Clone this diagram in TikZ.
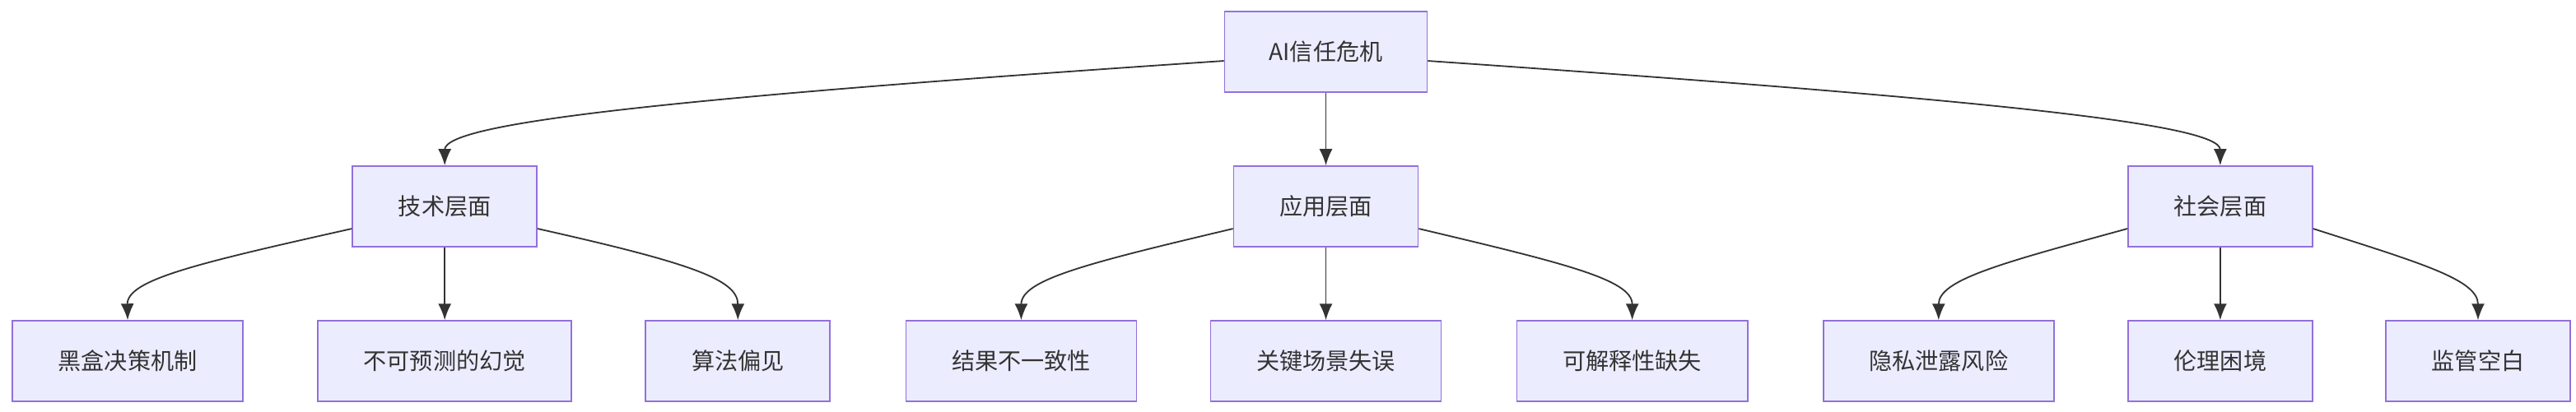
\documentclass[tikz,border=0pt]{standalone}
\usepackage{fontspec}
\setmainfont{Noto Sans CJK SC}
\usetikzlibrary{arrows.meta}
\definecolor{boxfill}{HTML}{ECECFF}
\definecolor{boxline}{HTML}{9370DB}
\definecolor{edgeline}{HTML}{333333}
\tikzset{box/.style={rectangle,draw=boxline,fill=boxfill,line width=1.2pt,minimum height=2.45cm,text centered,font=\fontsize{20}{24}\selectfont,text=edgeline},
arrowout/.style={-{Latex[length=5mm,width=4mm]},draw=edgeline,line width=1.3pt}}

\begin{document}
\begin{tikzpicture}[x=0.05cm,y=-0.05cm]
\useasboundingbox (0,0) rectangle (1564,250);
%root
\node[box,minimum width=6.15cm] (root) at (805,31.5) {AI信任危机};

%middle
\node[box,minimum width=5.6cm] (tech) at (270,125.5) {技术层面};
\node[box,minimum width=5.6cm] (app) at (805,125.5) {应用层面};
\node[box,minimum width=5.6cm] (soc) at (1348,125.5) {社会层面};

%leaves
\node[box,minimum width=7cm] (t1) at (77.5,219.5) {黑盒决策机制};
\node[box,minimum width=7.7cm] (t2) at (270,219.5) {不可预测的幻觉};
\node[box,minimum width=5.6cm] (t3) at (448,219.5) {算法偏见};
\node[box,minimum width=7cm] (a1) at (620,219.5) {结果不一致性};
\node[box,minimum width=7cm] (a2) at (805,219.5) {关键场景失误};
\node[box,minimum width=7cm] (a3) at (991,219.5) {可解释性缺失};
\node[box,minimum width=7cm] (s1) at (1177,219.5) {隐私泄露风险};
\node[box,minimum width=5.6cm] (s2) at (1348,219.5) {伦理困境};
\node[box,minimum width=5.6cm] (s3) at (1504.5,219.5) {监管空白};

\draw[arrowout] (root.west|-0,37) .. controls (400,60) and (270,75) .. (tech.north);
\draw[arrowout] (root) -- (app);
\draw[arrowout] (root.east|-0,37) .. controls (1200,60) and (1348,75) .. (soc.north);

\draw[arrowout] (tech.west|-0,139) .. controls (120,160) and (77,170) .. (t1.north);
\draw[arrowout] (tech) -- (t2);
\draw[arrowout] (tech.east|-0,139) .. controls (420,160) and (448,170) .. (t3.north);
\draw[arrowout] (app.west|-0,139) .. controls (660,160) and (620,170) .. (a1.north);
\draw[arrowout] (app) -- (a2);
\draw[arrowout] (app.east|-0,139) .. controls (950,160) and (991,170) .. (a3.north);
\draw[arrowout] (soc.west|-0,139) .. controls (1215,160) and (1177,170) .. (s1.north);
\draw[arrowout] (soc) -- (s2);
\draw[arrowout] (soc.east|-0,139) .. controls (1470,160) and (1504.5,170) .. (s3.north);
\end{tikzpicture}
\end{document}
